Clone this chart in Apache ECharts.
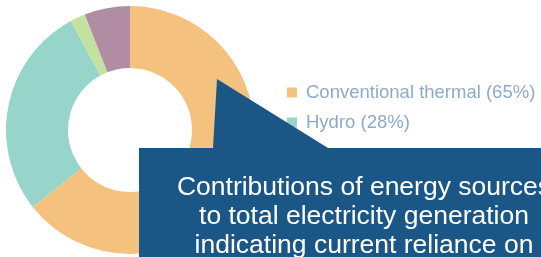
<!DOCTYPE html>
<html>
<head>
<meta charset="utf-8">
<script src="https://cdn.jsdelivr.net/npm/echarts@6/dist/echarts.min.js"></script>
<style>
  html, body { margin: 0; padding: 0; background: #fff; }
  #chart { width: 541px; height: 257px; }
</style>
</head>
<body>
<div id="chart"></div>
<script>
"use strict";

var sources = ["Conventional thermal", "Hydro", "Wind & solar", "Other"];
var shares = [65, 28, 2, 6];
var legendLabels = ["Conventional thermal (65%)", "Hydro (28%)", "Wind & solar (2%)", "Other (6%)"];
var colors = ["#f4c17f", "#97d4c9", "#c3e2a0", "#b18da3"];
var calloutLines = [
    "Contributions of energy sources",
    "to total electricity generation",
    "indicating current reliance on"
];

function legendAt(top, names) {
    return {
        orient: "vertical",
        left: 282,
        top: top,
        icon: "rect",
        itemWidth: 10,
        itemHeight: 10,
        itemGap: 11,
        selectedMode: false,
        data: names,
        formatter: function (name) {
            return legendLabels[sources.indexOf(name)];
        },
        textStyle: {
            color: "#8eaacb",
            fontSize: 18.5,
            fontFamily: "Liberation Sans",
            padding: [0, 0, 0, 4]
        }
    };
}

function energyMix() {
    var data = sources.map(function (name, i) {
        return { name: name, value: shares[i], itemStyle: { color: colors[i] } };
    });
    var e = {
        animation: false,
        // last two entries sit under the callout box
        legend: [legendAt(78, sources.slice(0, 2)), legendAt(143, sources.slice(2))],
        series: [{
            type: "pie",
            center: [130, 130],
            radius: [62, 124],
            startAngle: 90,
            clockwise: true,
            silent: true,
            label: { show: false },
            labelLine: { show: false },
            data: data
        }],
        graphic: [{
            type: "polygon",
            z: 100,
            shape: {
                points: [[139, 148], [213, 148], [217, 79], [328, 148], [560, 148], [560, 280], [139, 280]]
            },
            style: { fill: "#1a5787" }
        }, {
            type: "text",
            z: 101,
            x: 364,
            y: 217,
            style: {
                text: calloutLines.join("\n"),
                fill: "#ffffff",
                fontSize: 26.5,
                lineHeight: 29,
                fontFamily: "Liberation Sans",
                align: "center",
                verticalAlign: "middle"
            }
        }]
    };
    echarts.init(document.getElementById("chart")).setOption(e);
}

energyMix();
</script>
</body>
</html>
